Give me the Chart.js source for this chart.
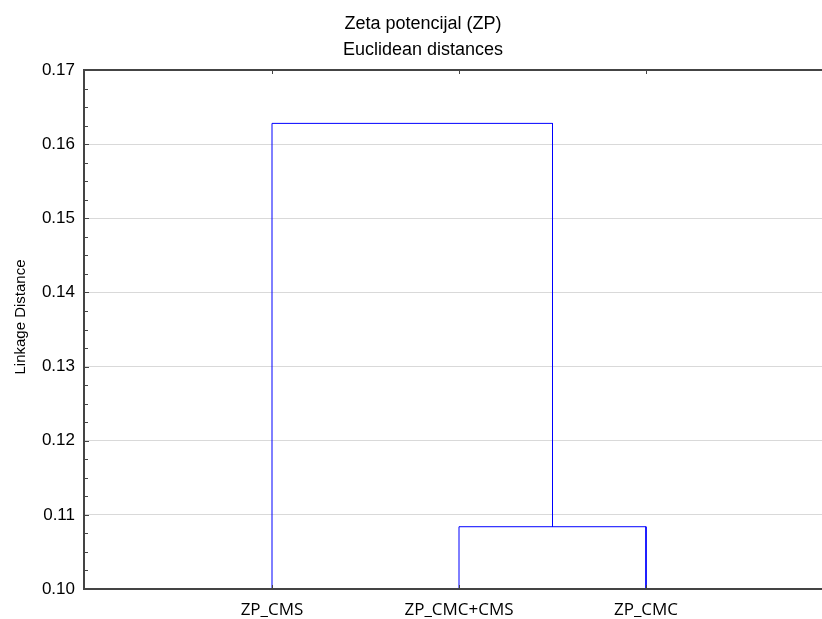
<!DOCTYPE html>
<html>
<head>
<meta charset="utf-8">
<script src="https://cdn.jsdelivr.net/npm/chart.js@4"></script>
<style>
  html, body { margin: 0; padding: 0; background: #fff; overflow: hidden; }
  #wrap { width: 846px; height: 619px; }
</style>
</head>
<body>
<div id="wrap"><canvas id="dendro" width="846" height="619"></canvas></div>
<script>
const titleLines = ["Zeta potencijal (ZP)", "Euclidean distances"];
const yTitle = "Linkage Distance";
const leaves = ["ZP_CMS", "ZP_CMC+CMS", "ZP_CMC"];
// each step joins two nodes: a leaf name or an earlier step ("#0", "#1", ...)
const joinLeft = ["ZP_CMC+CMS", "ZP_CMS"];
const joinRight = ["ZP_CMC", "#0"];
const joinHeight = [0.1084, 0.1628];
const yTicks = [0.10, 0.11, 0.12, 0.13, 0.14, 0.15, 0.16, 0.17];

const AXIS = "#444444";
const SANS = "'Liberation Sans', Arial, sans-serif";

function buildLinks() {
  const nodes = {};
  leaves.forEach((name, i) => { nodes[name] = { x: i + 1, y: yTicks[0] }; });
  return joinHeight.map((h, k) => {
    const a = nodes[joinLeft[k]];
    const b = nodes[joinRight[k]];
    nodes["#" + k] = { x: (a.x + b.x) / 2, y: h };
    return [
      { x: a.x, y: a.y },
      { x: a.x, y: h },
      { x: b.x, y: h },
      { x: b.x, y: b.y }
    ];
  });
}

const datasets = buildLinks().map((pts, k) => ({
  label: "join " + (k + 1),
  data: pts,
  showLine: true,
  borderColor: "#0000ff",
  borderWidth: 1,
  pointRadius: 0,
  fill: false,
  tension: 0
}));

const framePlugin = {
  id: "statFrame",
  afterDatasetsDraw(chart) {
    const { ctx, chartArea: a, scales: { x, y } } = chart;
    ctx.save();
    ctx.strokeStyle = AXIS;
    ctx.lineWidth = 2;
    ctx.strokeRect(a.left - 1, a.top, a.right - a.left + 1, a.bottom - a.top);

    ctx.lineWidth = 1;
    ctx.beginPath();
    // minor ticks every quarter step, major ticks at labelled values
    for (let i = 0; i < yTicks.length - 1; i++) {
      const step = (yTicks[i + 1] - yTicks[i]) / 4;
      for (let j = 0; j < 4; j++) {
        const py = Math.round(y.getPixelForValue(yTicks[i] + j * step)) + 0.5;
        const len = j === 0 ? 4 : 3;
        ctx.moveTo(a.left, py);
        ctx.lineTo(a.left + len, py);
      }
    }
    leaves.forEach((_, i) => {
      const px = Math.round(x.getPixelForValue(i + 1)) + 0.5;
      ctx.moveTo(px, a.top);
      ctx.lineTo(px, a.top + 4);
      ctx.moveTo(px, a.bottom);
      ctx.lineTo(px, a.bottom - 4);
    });
    ctx.stroke();
    ctx.restore();
  },
  afterDraw(chart) {
    const { ctx, width } = chart;
    ctx.save();
    ctx.fillStyle = "#000";
    ctx.textAlign = "center";
    ctx.textBaseline = "alphabetic";
    ctx.font = "18px " + SANS;
    ctx.fillText(titleLines[0], width / 2, 29);
    ctx.fillText(titleLines[1], width / 2, 55);

    ctx.font = "15px " + SANS;
    ctx.translate(25, 317);
    ctx.rotate(-Math.PI / 2);
    ctx.fillText(yTitle, 0, 0);
    ctx.restore();
  }
};

new Chart(document.getElementById("dendro"), {
  type: "scatter",
  data: { datasets },
  plugins: [framePlugin],
  options: {
    responsive: false,
    animation: false,
    events: [],
    layout: { padding: { top: 70, right: 13, left: 0, bottom: 0 } },
    plugins: {
      legend: { display: false },
      tooltip: { enabled: false },
      title: { display: false }
    },
    scales: {
      x: {
        type: "linear",
        min: 0,
        max: leaves.length + 1,
        afterBuildTicks: s => { s.ticks = leaves.map((_, i) => ({ value: i + 1 })); },
        afterFit: s => { s.height = 30; },
        ticks: {
          callback: v => leaves[v - 1] ?? "",
          color: "#000",
          font: { family: "'Open Sans', sans-serif", size: 17 },
          padding: 3,
          maxRotation: 0,
          autoSkip: false
        },
        grid: { display: false },
        border: { display: false }
      },
      y: {
        min: yTicks[0],
        max: yTicks[yTicks.length - 1],
        afterBuildTicks: s => { s.ticks = yTicks.map(v => ({ value: v })); },
        afterFit: s => { s.width = 85; },
        ticks: {
          callback: v => v.toFixed(2),
          color: "#000",
          font: { family: SANS, size: 17 },
          padding: 10
        },
        grid: { color: "#d9d9d9", lineWidth: 1, drawTicks: false },
        border: { display: false }
      }
    }
  }
});
</script>
</body>
</html>
